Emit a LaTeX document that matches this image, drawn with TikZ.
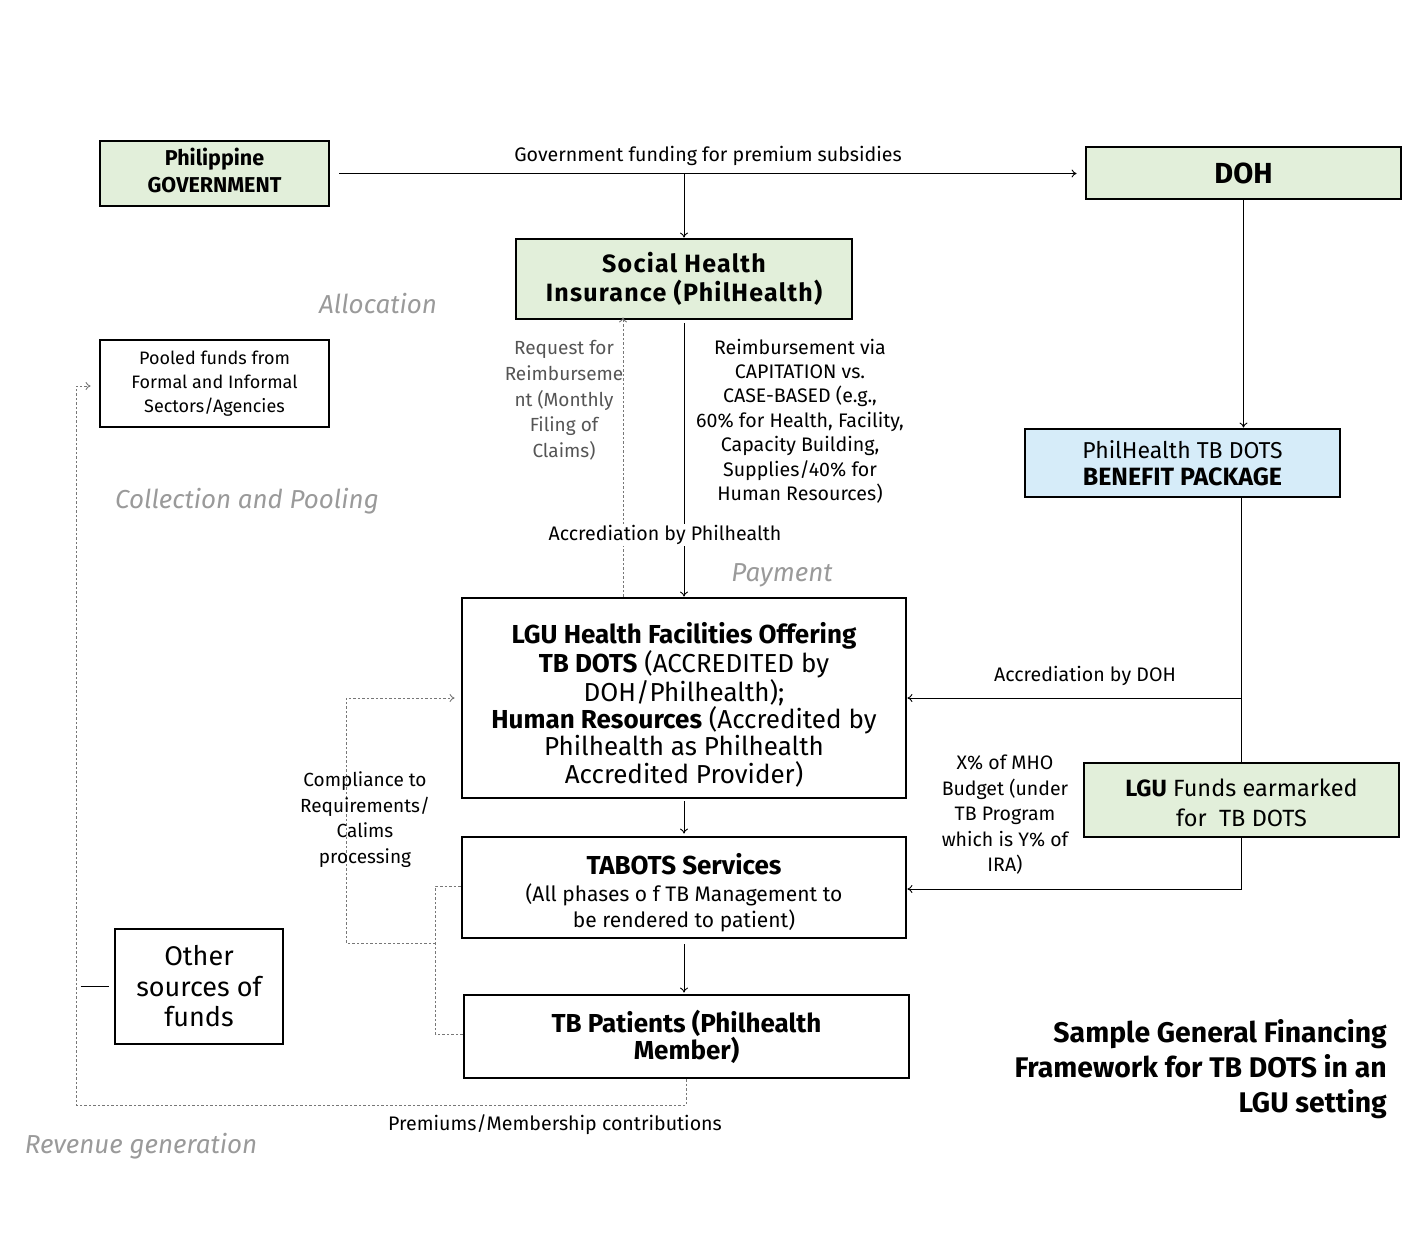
\documentclass[tikz,border=0pt]{standalone}
\usepackage{fontspec}
\setmainfont{Fira Sans}
\usetikzlibrary{arrows.meta}
\definecolor{boxgreen}{HTML}{E2EFDA}
\definecolor{boxblue}{HTML}{D6ECF9}
\definecolor{labelgray}{HTML}{9A9A9A}
\definecolor{reqgray}{HTML}{555555}
\definecolor{dashgray}{HTML}{777777}
\newcommand{\fsz}[2]{\fontsize{#1}{#2}\selectfont}
\begin{document}
\begin{tikzpicture}[x=1pt,y=-1pt,
  box/.style={draw=black,line width=2.8pt,inner sep=0pt,align=center},
  gbox/.style={box,fill=boxgreen},
  bbox/.style={box,fill=boxblue},
  conn/.style={line width=0.9pt,-{To[length=5pt,width=8pt]}},
  plainline/.style={line width=0.9pt},
  dsh/.style={line width=0.9pt,dashgray,dash pattern=on 2.5pt off 2pt},
  dsharr/.style={dsh,-{To[length=5pt,width=8pt]}},
  lbl/.style={inner sep=1pt,align=center,text=black},
  phase/.style={inner sep=0pt,text=labelgray,font=\fsz{26}{30}\itshape}
]
\useasboundingbox (0,0) rectangle (1422,1233);

% boxes
\node[gbox,minimum width=229pt,minimum height=65pt] (gov) at (214.5,173.5) {};
\node[lbl,font=\fsz{21.5}{27}\bfseries] (govtxt) at ([yshift=3pt]gov.center) {Philippine\\GOVERNMENT};
\node[gbox,minimum width=315pt,minimum height=52pt,font=\fsz{29}{32}\bfseries] (doh) at (1243.5,173) {DOH};
\node[gbox,minimum width=336pt,minimum height=80pt,font=\fsz{25}{29}\bfseries\addfontfeatures{LetterSpace=5}] (shi) at (684,279) {Social Health\\Insurance (PhilHealth)};
\node[box,minimum width=229pt,minimum height=87pt,font=\fsz{18}{24}] (pool) at (214.5,383.5) {Pooled funds from\\Formal and Informal\\Sectors/Agencies};
\node[bbox,minimum width=315pt,minimum height=68pt,font=\fsz{23}{27}] (ben) at (1182.5,463) {PhilHealth TB DOTS\\{\fsz{25}{27}\bfseries BENEFIT PACKAGE}};
\node[gbox,minimum width=315pt,minimum height=74pt] (lgu) at (1241.5,800) {};
\node[lbl,font=\fsz{23.5}{30}] (lgutxt) at ([yshift=-3pt]lgu.center) {\textbf{LGU} Funds earmarked\\for\ \ TB DOTS};
\node[box,minimum width=444pt,minimum height=200pt] (fac) at (684,698) {};
\node[lbl,font=\fsz{26}{27.4}] (factxt) at ([yshift=-7pt]fac.center) {\textbf{LGU Health Facilities Offering}\\\textbf{TB DOTS} (ACCREDITED by\\DOH/Philhealth);\\\textbf{Human Resources} (Accredited by\\Philhealth as Philhealth\\Accredited Provider)};
\node[box,minimum width=444pt,minimum height=101pt] (tab) at (684,887.5) {};
\node[lbl,font=\fsz{21}{26}] (tabtxt) at ([yshift=-5.5pt]tab.center) {{\fsz{26}{30}\bfseries TABOTS Services}\\[1pt](All phases o f TB Management to\\be rendered to patient)};
\node[box,minimum width=445pt,minimum height=83pt,font=\fsz{26}{27}\bfseries] (pat) at (686.5,1036.5) {TB Patients (Philhealth\\Member)};
\node[box,minimum width=168pt,minimum height=115pt,font=\fsz{27}{30.5}] (oth) at (199,986.5) {Other\\sources of\\funds};

% phase labels
\node[phase] (pAlloc) at (378,304) {Allocation};
\node[phase] (pColl) at (247,501) {Collection and Pooling};
\node[phase] (pPay) at (782,575) {Payment};
\node[phase] (pRev) at (141,1146) {Revenue generation};

% title
\node[lbl,align=right,anchor=east,font=\fsz{28.4}{35}\bfseries] (title) at (1388,1069.5) {Sample General Financing\\Framework for TB DOTS in an\\LGU setting};

% top connector
\coordinate (gline) at ([xshift=9pt]gov.east);
\draw[conn,shorten >=8pt] (gline) -- (gline -| doh.west);
\node[lbl,font=\fsz{19.6}{24}] (glbl) at (708,156) {Government funding for premium subsidies};
\coordinate (j1) at (gline -| shi.north);
\draw[conn] (j1) -- (shi.north);

% PhilHealth to facilities
\draw[conn,shorten <=3pt] (shi.south) -- (fac.north);
\draw[dsharr] ([xshift=-61pt]fac.north) -- ([xshift=-61pt,yshift=3pt]shi.south);
\node[lbl,fill=white,font=\fsz{19.6}{24}] (acc1) at (665,535) {Accrediation by Philhealth};
\node[lbl,font=\fsz{19.6}{24.4}] (reimb) at (800,421) {Reimbursement via\\CAPITATION vs.\\CASE-BASED (e.g.,\\60\% for Health, Facility,\\Capacity Building,\\Supplies/40\% for\\Human Resources)};
\node[lbl,text=reqgray,font=\fsz{19}{25.7}] (req) at (564,400.5) {Request for\\Reimburseme\\nt (Monthly\\Filing of\\Claims)};

% DOH side
\draw[conn] (doh.south) -- (doh.south |- ben.north);
\coordinate (j2) at (lgu.north |- fac.east);
\draw[plainline] (lgu.north |- ben.south) -- (lgu.north);
\draw[conn] (j2) -- (fac.east);
\node[lbl,font=\fsz{19.6}{24}] (acc2) at (1085,676) {Accrediation by DOH};
\draw[conn] (lgu.south) -- (lgu.south |- 0,889) -- (tab.east |- 0,889);
\node[lbl,font=\fsz{19.5}{25.5}] (xpct) at (1005,815) {X\% of MHO\\Budget (under\\TB Program\\which is Y\% of\\IRA)};

% vertical chain
\draw[conn,shorten <=2pt,shorten >=2pt] (fac.south) -- (tab.north);
\draw[conn,shorten <=5pt,shorten >=1pt] (tab.south) -- (tab.south |- pat.north);

% dashed compliance loop
\coordinate (k1) at ([xshift=-27pt,yshift=2pt]pat.west);
\draw[dsh] ([yshift=2pt]pat.west) -- (k1) |- ([yshift=1.5pt]tab.west);
\coordinate (k2) at (k1 |- 0,943);
\draw[dsharr,shorten >=6pt] (k2) -- (346,943) |- (fac.west);
\node[lbl,font=\fsz{19}{25.7}] (comp) at (365,819.5) {Compliance to\\Requirements/\\Calims\\processing};

% premiums loop
\coordinate (k3) at (pat.south |- 0,1105);
\draw[dsharr,shorten >=8pt] (pat.south) -- (k3) -| (76,386) -- (pool.west |- 0,386);
\node[lbl,font=\fsz{19.6}{24}] (prem) at (555,1125) {Premiums/Membership contributions};

% other sources stub
\draw[plainline] ([xshift=-33pt]oth.west) -- ([xshift=-5pt]oth.west);
\end{tikzpicture}
\end{document}
